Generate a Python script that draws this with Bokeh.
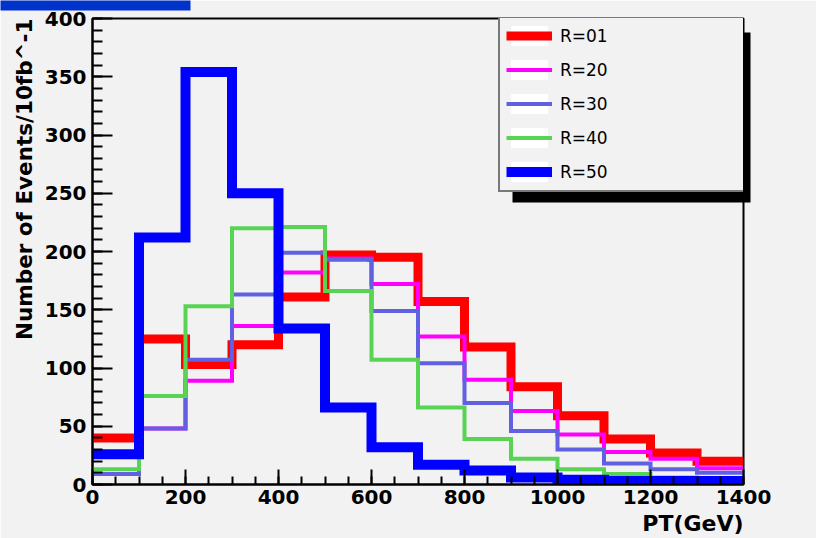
from bokeh.plotting import figure
from bokeh.models import (Range1d, FixedTicker, Legend, LegendItem, BoxAnnotation,
                          Title, ColorBar, LinearColorMapper)
from bokeh.embed import file_html
from bokeh.resources import INLINE

# ---- data ----
bin_edges = [0, 100, 200, 300, 400, 500, 600, 700, 800, 900, 1000, 1100, 1200, 1300, 1400]
r01 = [40, 125, 103, 120, 161, 197, 195, 157, 118, 84, 59, 39, 27, 20]
r20 = [9, 48, 89, 136, 182, 194, 172, 127, 90, 63, 43, 28, 22, 14]
r30 = [9, 48, 107, 163, 199, 193, 149, 104, 70, 46, 30, 18, 13, 10]
r40 = [13, 76, 153, 220, 221, 166, 107, 66, 39, 22, 13, 9, 6, 5]
r50 = [26, 212, 354, 250, 134, 66, 32, 17, 12, 6, 4, 3, 3, 3]
series_labels = ["R=01", "R=20", "R=30", "R=40", "R=50"]
series_values = [r01, r20, r30, r40, r50]
series_colors = ["#ff0000", "#ff00ff", "#6060e0", "#59d354", "#0000ff"]
series_widths = [9, 4, 4, 4, 10]
x_ticks = [0, 200, 400, 600, 800, 1000, 1200, 1400]
x_minor = [v for v in range(0, 1401, 50)]
y_ticks = [0, 50, 100, 150, 200, 250, 300, 350, 400]
y_minor = [v for v in range(0, 401, 10)]
x_title = "PT(GeV)"
y_title = "Number of Events/10fb^-1"

BG = "#f2f2f2"
FONT = "DejaVu Sans"


def solid_bar(color, **kw):
    return ColorBar(color_mapper=LinearColorMapper(palette=[color], low=0, high=1),
                    padding=0, margin=0, ticker=FixedTicker(ticks=[]),
                    major_tick_line_color=None, minor_tick_line_color=None,
                    bar_line_color=None, border_line_color=None,
                    background_fill_alpha=0, major_label_text_font_size="1px",
                    label_standoff=0, **kw)


p = figure(width=816, height=538, output_backend="svg", toolbar_location=None,
           title=None, x_range=Range1d(0, 1400), y_range=Range1d(0, 400),
           min_border_left=92, min_border_right=73, min_border_top=18,
           min_border_bottom=53, background_fill_color=BG, border_fill_color=BG,
           outline_line_color="black", outline_line_width=2)
p.xgrid.visible = False
p.ygrid.visible = False

for ax, ticks, minor, tin, tmin in ((p.xaxis, x_ticks, x_minor, 15, 8),
                                     (p.yaxis, y_ticks, y_minor, 20, 10)):
    ax.ticker = FixedTicker(ticks=ticks, minor_ticks=minor)
    ax.axis_line_color = "black"
    ax.axis_line_width = 2
    ax.major_tick_in = tin
    ax.major_tick_out = 0
    ax.minor_tick_in = tmin
    ax.minor_tick_out = 0
    ax.major_tick_line_width = 2
    ax.minor_tick_line_width = 2
    ax.major_tick_line_color = "black"
    ax.minor_tick_line_color = "black"
    ax.major_label_text_font = FONT
    ax.major_label_text_font_style = "bold"
    ax.major_label_text_font_size = "20px"
    ax.major_label_text_color = "black"
p.xaxis.major_label_standoff = 5
p.yaxis.major_label_standoff = 6

# legend sample background (kept outside the visible range)
bg = p.quad(left=[-500], right=[-400], top=[-10], bottom=[-20],
            fill_color="white", line_color=None)

items = []
for lab, vals, col, lw in zip(series_labels, series_values, series_colors, series_widths):
    ys = list(vals) + [vals[-1]]
    r = p.step(x=bin_edges, y=ys, mode="after", line_color=col, line_width=lw,
               line_join="miter")
    items.append(LegendItem(label=lab, renderers=[bg, r]))

# legend shadow: part inside the frame
p.add_layout(BoxAnnotation(left=420, right=658, top=452, bottom=282,
                           left_units="screen", right_units="screen",
                           top_units="screen", bottom_units="screen",
                           fill_color="black", fill_alpha=1, line_color=None))

legend = Legend(items=items, location=(406, 292), orientation="vertical",
                glyph_width=46, glyph_height=25, spacing=9, padding=6,
                label_standoff=8, label_width=178,
                label_text_font=FONT, label_text_font_size="17px",
                label_text_color="black",
                background_fill_color=BG, background_fill_alpha=1,
                border_line_color="black", border_line_width=2)
p.add_layout(legend)

# legend shadow: right part, outside the frame
p.add_layout(solid_bar("#000000", width=7, height=170, location=(0, 282)), "right")
# blue strip at the very top-left of the page
p.add_layout(solid_bar("#0033cc", orientation="horizontal", width=190, height=10,
                       location=(-92, 8)), "above")

p.add_layout(Title(text=y_title, align="right", text_font=FONT, text_font_style="bold",
                   text_font_size="21.5px", text_color="black", standoff=10), "left")
p.add_layout(Title(text=x_title, align="right", text_font=FONT, text_font_style="bold",
                   text_font_size="22px", text_color="black", standoff=5), "below")

open("out.html", "w").write(file_html(p, INLINE))
